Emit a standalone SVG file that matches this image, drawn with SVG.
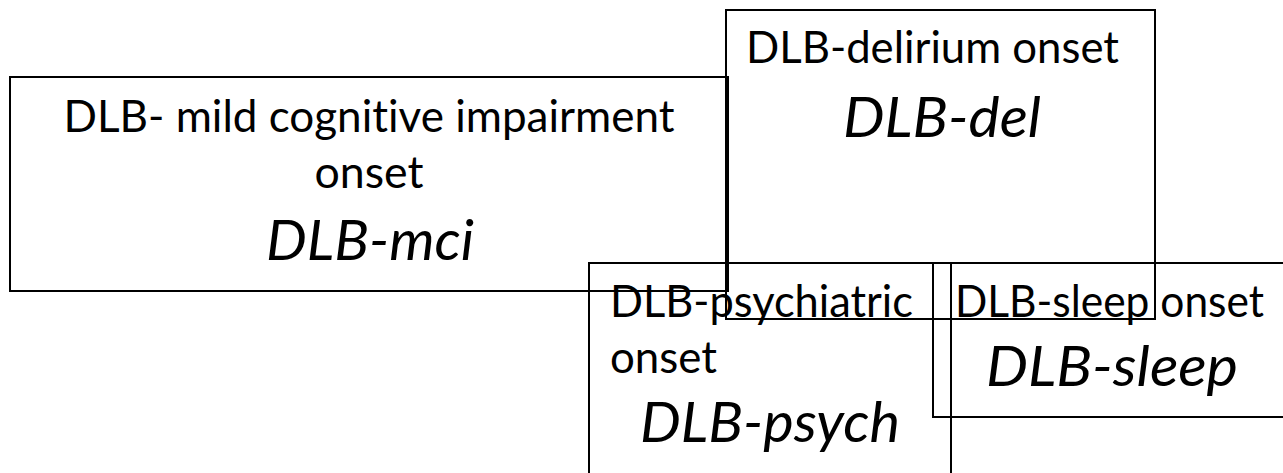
<svg xmlns="http://www.w3.org/2000/svg" width="1283" height="473" viewBox="0 0 1283 473">
  <style>
    .box { fill: none; stroke: #000; stroke-width: 2; }
    .t { font-family: Lato, "Open Sans", "Liberation Sans", sans-serif; font-size: 44px; fill: #000; font-variant-ligatures: none; }
    .ti { font-family: Lato, "Open Sans", "Liberation Sans", sans-serif; font-size: 57px; font-style: italic; fill: #000; font-variant-ligatures: none; }
    .c { text-anchor: middle; }
  </style>
  <rect width="1283" height="473" fill="#fff"/>
  <g id="node-mci">
    <rect class="box" x="10" y="77" width="718" height="214"/>
    <text class="t c" x="369" y="132" textLength="611" lengthAdjust="spacingAndGlyphs">DLB- mild cognitive impairment</text>
    <text class="t c" x="369" y="188" textLength="109" lengthAdjust="spacingAndGlyphs">onset</text>
    <text class="ti c" x="370" y="260" textLength="208" lengthAdjust="spacingAndGlyphs">DLB-mci</text>
  </g>
  <g id="node-del">
    <rect class="box" x="726" y="10" width="429" height="309"/>
    <text class="t" x="746" y="63" textLength="373" lengthAdjust="spacingAndGlyphs">DLB-delirium onset</text>
    <text class="ti c" x="942" y="137" textLength="198" lengthAdjust="spacingAndGlyphs">DLB-del</text>
  </g>
  <g id="node-psych">
    <rect class="box" x="589" y="263" width="362" height="232"/>
    <text class="t" x="610" y="317" textLength="303" lengthAdjust="spacingAndGlyphs">DLB-psychiatric</text>
    <text class="t" x="610" y="373" textLength="107" lengthAdjust="spacingAndGlyphs">onset</text>
    <text class="ti c" x="770" y="442" textLength="260" lengthAdjust="spacingAndGlyphs">DLB-psych</text>
  </g>
  <g id="node-sleep">
    <rect class="box" x="933" y="263" width="362" height="154"/>
    <text class="t" x="955" y="317" textLength="309" lengthAdjust="spacingAndGlyphs">DLB-sleep onset</text>
    <text class="ti c" x="1112" y="386" textLength="252" lengthAdjust="spacingAndGlyphs">DLB-sleep</text>
  </g>
  <g id="connectors"/>
</svg>
